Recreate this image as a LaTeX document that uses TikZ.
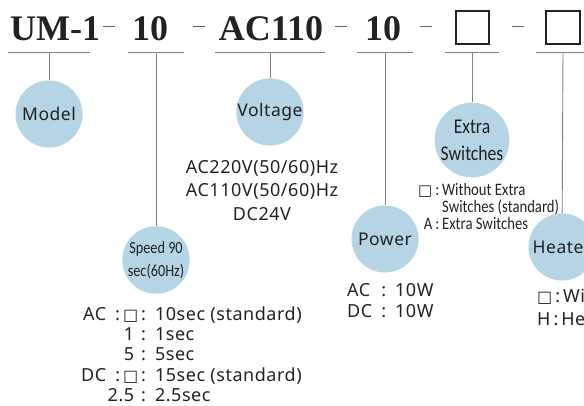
\documentclass[tikz,border=0pt]{standalone}
\usepackage{fontspec}
\usepackage{xcolor}
\setmainfont{Noto Sans}[LetterSpace=3]
\newfontfamily\hdrfont{Liberation Serif}
\newfontfamily\narrowfont{Carlito}[FakeStretch=0.84]
\newfontfamily\symfont{DejaVu Sans}
\definecolor{colorBub}{HTML}{B5D5E4}
\definecolor{colorRule}{HTML}{7F7F7F}
\definecolor{colorText}{HTML}{222222}
\newcommand{\sq}[1][16]{{\symfont\fontsize{#1pt}{#1pt}\selectfont □}}

\begin{document}
\begin{tikzpicture}[x=1pt,y=-1pt,every node/.append style={text=colorText},bub/.style={circle, fill=colorBub, minimum size=67pt, inner sep=0pt, align=center, font=\fontsize{17.5}{20}\selectfont},hdr/.style={inner sep=0pt, font=\hdrfont\bfseries\fontsize{36}{36}\selectfont},sepdash/.style={inner sep=0pt, anchor=base, text=colorText!70},slot/.style={draw=colorText, line width=1.6pt, minimum size=33.5pt, inner sep=0pt},rule/.style={draw=colorRule, line width=0.9pt},lst/.style={inner sep=0pt},]
    \useasboundingbox (0,0) rectangle (584,405);
    \clip (0,0) rectangle (584,405);
    % code line
    \node [hdr, anchor=base west] (hUM) at (10,40) {UM-1};
    \node [hdr, anchor=base] (hSpd) at (150,40) {10};
    \node [hdr, anchor=base] (hVolt) at (271,40) {AC110};
    \node [hdr, anchor=base] (hPow) at (383,40) {10};
    \node [slot] (b1) at (472.5,27.5) {};
    \node [slot] (b2) at (563,27.5) {};
    \foreach \x [count=\i] in {109,199,341,426,518}
        \node [sepdash] (d\i) at (\x,40) {\rule[12.6pt]{12pt}{1.3pt}};
    \foreach \n/\x/\w in {1/49/41, 2/156/28, 3/270/55, 4/385/28, 5/472/27, 6/563/27} {
        \coordinate (u\n) at (\x,52);
        \draw [rule] ([xshift=-\w pt]u\n) -- ([xshift=\w pt]u\n);
    }
    % bubbles
    \node [bub] (model) at (49,114) {Model};
    \node [bub] (volt) at (270,112) {Voltage};
    \node [bub, font=\narrowfont\fontsize{17}{23}\selectfont] (speed) at (156,260) {Speed 90\\sec(60Hz)};
    \node [bub] (power) at (385,239) {Power};
    \node [bub, font=\narrowfont\fontsize{21}{27}\selectfont] (extra) at (472,140) {Extra\\Switches};
    \node [bub] (heater) at (562,247) {Heater};
    \path [rule] (u1) edge (model) (u2) edge (speed) (u3) edge (volt) (u4) edge (power) (u5) edge (extra) (u6) edge (heater);
    % option lists
    \node [lst, anchor=base, font=\fontsize{18}{23.5}\selectfont] (vlist) at (262,173) {\begin{tabular}[t]{@{}c@{}}AC220V(50/60)Hz\\AC110V(50/60)Hz\\DC24V\end{tabular}};
    \node [lst, anchor=base west, font=\fontsize{18}{20.4}\selectfont] (slist) at (81,320) {\begin{tabular}[t]{@{}r@{}l@{}}AC\enspace:\,\sq & \,:\enspace10sec (standard)\\1\hspace{4pt} & \,:\enspace1sec\\5\hspace{4pt} & \,:\enspace5sec\\DC\enspace:\,\sq & \,:\enspace15sec (standard)\\2.5\hspace{4pt} & \,:\enspace2.5sec\end{tabular}};
    \node [lst, anchor=base west, font=\fontsize{18}{21}\selectfont] (plist) at (347,296) {\begin{tabular}[t]{@{}l@{\enspace:\enspace}l@{}}AC & 10W\\DC & 10W\end{tabular}};
    \node [lst, anchor=base west, font=\narrowfont\fontsize{17.5}{16}\selectfont] (elist) at (418,195) {\begin{tabular}[t]{@{}r@{}l@{}}\sq[15]\,:\, & Without Extra\\ & Switches (standard)\\A\,:\, & Extra Switches\end{tabular}};
    \node [lst, anchor=base west, font=\fontsize{18}{23}\selectfont] (hlist) at (537,302) {\begin{tabular}[t]{@{}l@{}}\sq\,:\,Without Heater\\H\,:\,Heater\end{tabular}};
\end{tikzpicture}
\end{document}
